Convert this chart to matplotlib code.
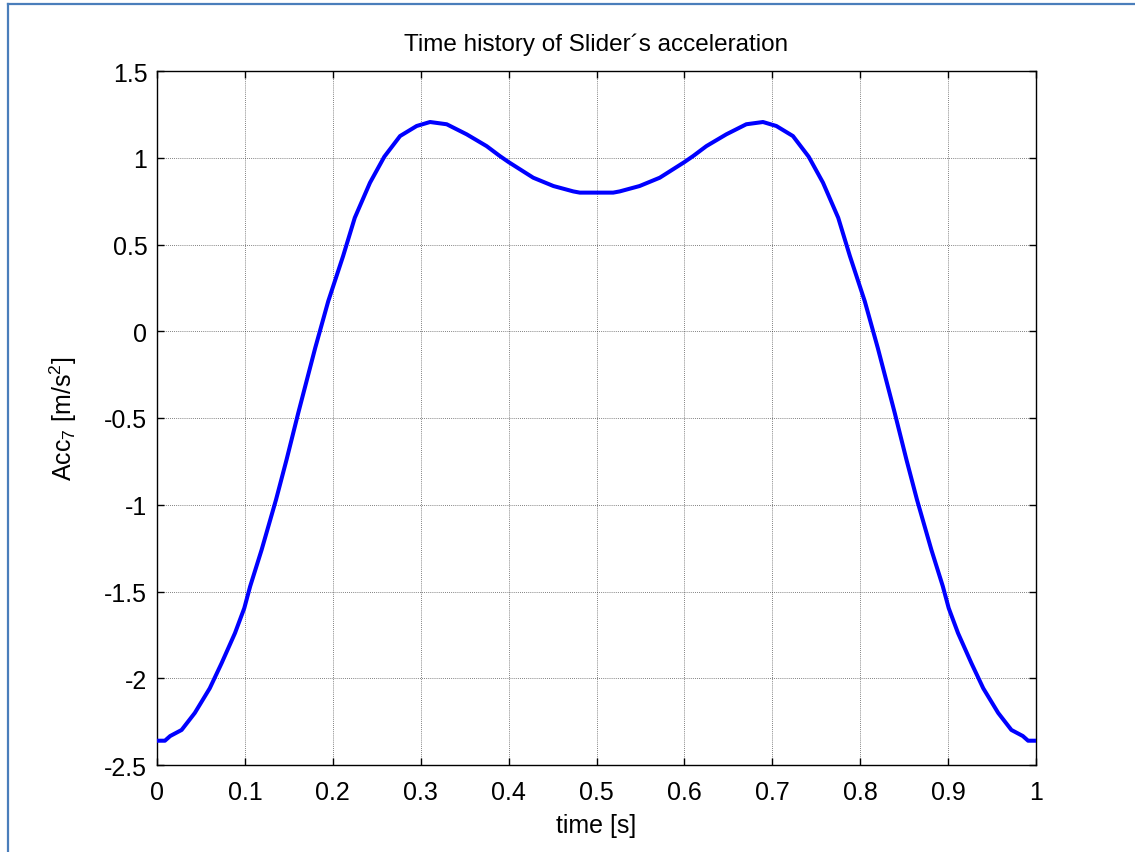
import matplotlib
matplotlib.use("Agg")
import matplotlib.pyplot as plt
from matplotlib.lines import Line2D

plt.rcParams['font.family'] = ['Liberation Sans', 'DejaVu Sans']
plt.rcParams['mathtext.default'] = 'regular'

# Slider acceleration over one cycle
time_s = [0.0, 0.009, 0.015, 0.028, 0.043, 0.060, 0.0735, 0.0887, 0.0993, 0.106,
          0.119, 0.1354, 0.1474, 0.1607, 0.180, 0.1948, 0.2117, 0.225, 0.2423,
          0.2586, 0.2765, 0.2954, 0.3106, 0.3296, 0.3523, 0.375, 0.390, 0.400,
          0.428, 0.451, 0.4736, 0.481, 0.500, 0.519, 0.5264, 0.549, 0.572, 0.600,
          0.610, 0.625, 0.6477, 0.6704, 0.6894, 0.7046, 0.7235, 0.7414, 0.7577,
          0.775, 0.7883, 0.8052, 0.820, 0.8393, 0.8526, 0.8646, 0.881, 0.894,
          0.9007, 0.9113, 0.9265, 0.940, 0.957, 0.972, 0.985, 0.991, 1.0]
accel = [-2.36, -2.36, -2.333, -2.298, -2.20, -2.058, -1.913, -1.74, -1.596, -1.47,
         -1.26, -0.971, -0.74, -0.471, -0.096, 0.173, 0.433, 0.654, 0.856,
         1.006, 1.125, 1.183, 1.206, 1.193, 1.135, 1.067, 1.01, 0.975,
         0.885, 0.837, 0.806, 0.799, 0.799, 0.799, 0.806, 0.837, 0.885, 0.975,
         1.01, 1.067, 1.135, 1.193, 1.206, 1.183, 1.125, 1.006, 0.856,
         0.654, 0.433, 0.173, -0.096, -0.471, -0.74, -0.971, -1.26, -1.47,
         -1.596, -1.74, -1.913, -2.058, -2.20, -2.298, -2.333, -2.36, -2.36]

x_ticks = [0, 0.1, 0.2, 0.3, 0.4, 0.5, 0.6, 0.7, 0.8, 0.9, 1]
x_tick_labels = ['0', '0.1', '0.2', '0.3', '0.4', '0.5', '0.6', '0.7', '0.8', '0.9', '1']
y_ticks = [-2.5, -2, -1.5, -1, -0.5, 0, 0.5, 1, 1.5]
y_tick_labels = ['-2.5', '-2', '-1.5', '-1', '-0.5', '0', '0.5', '1', '1.5']

fig = plt.figure(figsize=(11.35, 8.53), dpi=100)
ax = fig.add_axes([157 / 1135, 1 - 766 / 853, (1036 - 157) / 1135, (766 - 72) / 853])

ax.plot(time_s, accel, color='#0000ff', linewidth=2.9, solid_capstyle='butt', zorder=3)

ax.set_xlim(0, 1)
ax.set_ylim(-2.5, 1.5)
ax.set_xticks(x_ticks)
ax.set_xticklabels(x_tick_labels)
ax.set_yticks(y_ticks)
ax.set_yticklabels(y_tick_labels)

ax.grid(True, color='#202020', linestyle=(0, (1, 1.5)), linewidth=0.6, alpha=0.75)
ax.tick_params(direction='in', length=5, width=1, top=True, right=True,
               labelsize=18, colors='black')
ax.tick_params(axis='x', pad=11)
ax.tick_params(axis='y', pad=7)
for sp in ax.spines.values():
    sp.set_linewidth(1.0)
    sp.set_color('black')

ax.set_title('Time history of Slider\u00b4s acceleration', fontsize=17.5, pad=15)
ax.set_xlabel('time [s]', fontsize=18, labelpad=6)
ax.set_ylabel('Acc$_7$ [m/s$^2$]', fontsize=18, labelpad=18)

# Frame edges along the top and left of the figure
fig.add_artist(Line2D([8 / 1135, 8 / 1135], [0, 1 - 5 / 853], transform=fig.transFigure,
                      color='#4a7ebb', linewidth=1.6))
fig.add_artist(Line2D([8 / 1135, 1], [1 - 5 / 853, 1 - 5 / 853], transform=fig.transFigure,
                      color='#4a7ebb', linewidth=1.6))

fig.savefig('out.png', dpi=100, facecolor='white')
